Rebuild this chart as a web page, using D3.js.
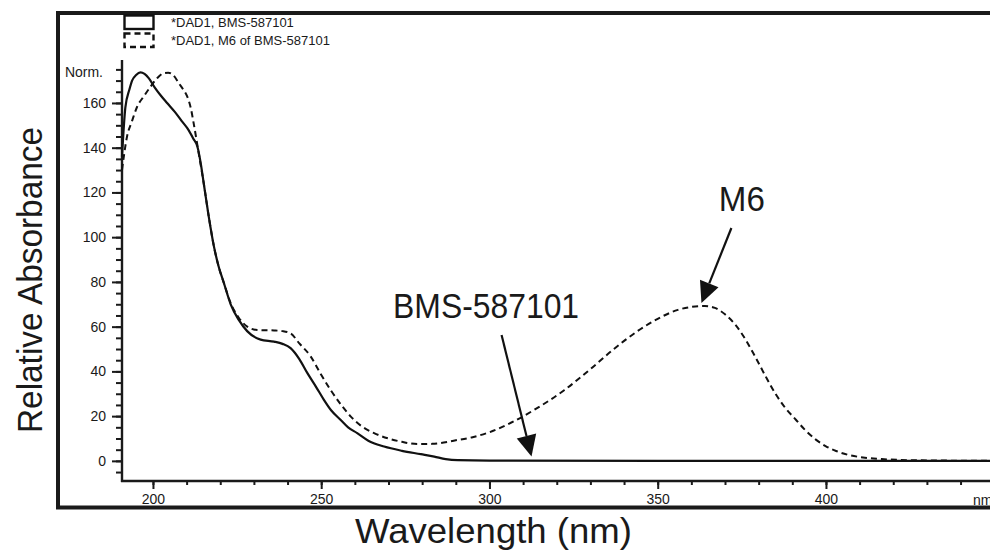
<!DOCTYPE html>
<html>
<head>
<meta charset="utf-8">
<script src="https://cdn.jsdelivr.net/npm/d3@7"></script>
<style>
  body { margin: 0; background: #fff; }
  svg { display: block; }
  text { font-family: "Liberation Sans", Arial, sans-serif; fill: #1a1a1a; }
</style>
</head>
<body>
<div id="chart"></div>
<script>
// BMS-587101 (solid trace)
var bmsWavelength = [190.8, 191.8, 193.0, 193.8, 195.0, 196.3, 197.5, 198.8, 200.5, 202.5, 204.2, 206.5, 208.5, 210.2, 212.0, 213.2, 214.2, 215.1, 216.5, 218.1, 219.5, 221.1, 223.1, 225.5, 228.0, 232.0, 236.0, 238.5, 240.9, 243.5, 245.9, 248.5, 250.8, 253.0, 255.8, 258.0, 260.7, 264.0, 268.7, 274.0, 279.6, 283.6, 287.0, 290.5, 300, 350, 400, 450];
var bmsAbsorbance = [136, 158, 166, 170, 172.5, 173.7, 173, 171, 167, 163, 160, 156, 152, 148.7, 144, 140.5, 133, 124, 110, 96, 87, 79.4, 70, 63, 58, 54.2, 53.3, 52.3, 50.4, 45.5, 39.2, 33, 27.3, 22.5, 18.3, 15, 12.4, 9, 6.4, 4.5, 3, 1.9, 0.8, 0.3, 0.1, 0, 0, 0];

// M6 of BMS-587101 (dashed trace)
var m6Wavelength = [190.8, 192.3, 193.8, 195.3, 197.3, 199.3, 201.2, 203.2, 204.5, 206.0, 207.7, 209.0, 210.2, 211.2, 212.1, 213.6, 215.1, 216.5, 218.1, 219.5, 221.1, 223.1, 225.5, 228.0, 231.0, 236.0, 238.5, 240.9, 243.5, 246.9, 249.8, 252.8, 255.8, 258.8, 262.0, 265.7, 270.0, 274.0, 278.6, 283.0, 290.0, 295.0, 300.0, 307.4, 313.3, 322.3, 330, 337, 344, 350, 356, 360, 364, 367, 370, 373, 376, 379, 382, 385, 388, 391, 394, 397, 400, 403, 406.6, 411, 416.5, 425, 450];
var m6Absorbance = [130, 145, 152, 158.3, 163, 167.3, 171, 173.3, 173.5, 172.5, 168.8, 166, 162.8, 158, 150.9, 137.5, 124, 110, 96, 87, 79.4, 70.5, 64, 60, 58.5, 58.3, 58, 57, 52.5, 46.6, 39, 31.7, 25.3, 19.8, 15.5, 12.4, 10, 8.5, 7.5, 7.6, 9.2, 10.6, 12.8, 17.8, 22.8, 31.7, 41, 50, 58, 63.5, 67.5, 68.8, 69.2, 68.4, 65.5, 61, 54.5, 46.5, 38, 30, 23.5, 18.5, 13.5, 9.5, 6.5, 4.4, 2.7, 1.5, 0.8, 0.3, 0];

var yTickValues = [0, 20, 40, 60, 80, 100, 120, 140, 160];
var yMinorTicks = d3.range(-5, 180, 5);
var xTickValues = [200, 250, 300, 350, 400];
var xMinorTicks = d3.range(200, 460, 10);
var legendLabels = ["*DAD1, BMS-587101", "*DAD1, M6 of BMS-587101"];

var width = 990, height = 554;

var svg = d3.select("#chart").append("svg")
  .attr("width", width)
  .attr("height", height);

svg.append("rect").attr("width", width).attr("height", height).attr("fill", "#fff");

// scales
var x = d3.scaleLinear().domain([190.8, 450]).range([122, 994.2]);
var y = d3.scaleLinear().domain([-9, 179.2]).range([481, 60]);

// outer frame (open on the right, cut by the picture edge)
svg.append("path")
  .attr("d", "M1000,13 H58 V507.5 H1000")
  .attr("fill", "none")
  .attr("stroke", "#1a1a1a")
  .attr("stroke-width", 4);

// y axis: minor ticks then major ticks with labels
var yMinor = svg.append("g").attr("transform", "translate(122,0)")
  .call(d3.axisLeft(y).tickValues(yMinorTicks).tickSize(6).tickFormat(""));
var yMajor = svg.append("g").attr("transform", "translate(122,0)")
  .call(d3.axisLeft(y).tickValues(yTickValues).tickSize(10).tickPadding(6));
[yMinor, yMajor].forEach(function(g) {
  g.select(".domain").remove();
  g.selectAll("line").attr("stroke", "#1a1a1a").attr("stroke-width", 2);
});
yMajor.selectAll("text").attr("font-size", 14).attr("font-family", null).style("fill", "#1a1a1a");
svg.append("line")
  .attr("x1", 122).attr("x2", 122)
  .attr("y1", y.range()[1]).attr("y2", y.range()[0] + 1)
  .attr("stroke", "#1a1a1a").attr("stroke-width", 2.4);

svg.append("text")
  .attr("x", 103).attr("y", 77)
  .attr("text-anchor", "end")
  .attr("font-size", 14)
  .text("Norm.");

// x axis
var xMinor = svg.append("g").attr("transform", "translate(0,481)")
  .call(d3.axisBottom(x).tickValues(xMinorTicks).tickSize(4).tickFormat(""));
var xMajor = svg.append("g").attr("transform", "translate(0,481)")
  .call(d3.axisBottom(x).tickValues(xTickValues).tickSize(8).tickPadding(5).tickFormat(d3.format("d")));
[xMinor, xMajor].forEach(function(g) {
  g.select(".domain").remove();
  g.selectAll("line").attr("stroke", "#1a1a1a").attr("stroke-width", 2);
});
xMajor.selectAll("text").attr("font-size", 14).attr("font-family", null).style("fill", "#1a1a1a");
svg.append("line")
  .attr("x1", 121).attr("x2", width)
  .attr("y1", 481).attr("y2", 481)
  .attr("stroke", "#1a1a1a").attr("stroke-width", 2.4);

svg.append("text")
  .attr("x", 973).attr("y", 505)
  .attr("font-size", 14)
  .text("nm");

// traces
var line = d3.line()
  .x(function(d) { return x(d[0]); })
  .y(function(d) { return y(d[1]); })
  .curve(d3.curveMonotoneX);

svg.append("path")
  .datum(d3.zip(m6Wavelength, m6Absorbance))
  .attr("d", line)
  .attr("fill", "none")
  .attr("stroke", "#111")
  .attr("stroke-width", 2)
  .attr("stroke-dasharray", "6,4");

svg.append("path")
  .datum(d3.zip(bmsWavelength, bmsAbsorbance))
  .attr("d", line)
  .attr("fill", "none")
  .attr("stroke", "#111")
  .attr("stroke-width", 2.2);

// legend
var legend = svg.append("g");
legendLabels.forEach(function(label, i) {
  legend.append("rect")
    .attr("x", 124.5).attr("y", 15.5 + i * 18)
    .attr("width", 29).attr("height", 13.5)
    .attr("fill", "none")
    .attr("stroke", "#111")
    .attr("stroke-width", 2.4)
    .attr("stroke-dasharray", i == 1 ? "6,4" : null);
  legend.append("text")
    .attr("x", 171).attr("y", 27 + i * 18)
    .attr("font-size", 13)
    .text(label);
});

// axis titles
svg.append("text")
  .attr("transform", "translate(42,280) rotate(-90)")
  .attr("text-anchor", "middle")
  .attr("font-size", 35)
  .attr("textLength", 306)
  .attr("lengthAdjust", "spacingAndGlyphs")
  .text("Relative Absorbance");

svg.append("text")
  .attr("x", 493.5).attr("y", 543)
  .attr("text-anchor", "middle")
  .attr("font-size", 35)
  .attr("textLength", 277)
  .attr("lengthAdjust", "spacingAndGlyphs")
  .text("Wavelength (nm)");

// annotations with arrows (anchored in data units)
var notes = [
  { text: "M6", tx: 375.0, ty: 111.7, len: 46, from: [371.9, 104.1], to: [363.0, 70.6] },
  { text: "BMS-587101", tx: 299.0, ty: 64.0, len: 186, from: [303.6, 56.3], to: [312.5, 2.0] }
];
notes.forEach(function(n) {
  svg.append("text")
    .attr("x", x(n.tx)).attr("y", y(n.ty))
    .attr("text-anchor", "middle")
    .attr("font-size", 35)
    .attr("textLength", n.len)
    .attr("lengthAdjust", "spacingAndGlyphs")
    .text(n.text);

  var x1 = x(n.from[0]), y1 = y(n.from[1]), x2 = x(n.to[0]), y2 = y(n.to[1]);
  var ang = Math.atan2(y2 - y1, x2 - x1);
  var headLen = 21, headHalf = 10;
  var bx = x2 - headLen * Math.cos(ang), by = y2 - headLen * Math.sin(ang);
  svg.append("line")
    .attr("x1", x1).attr("y1", y1).attr("x2", bx).attr("y2", by)
    .attr("stroke", "#111").attr("stroke-width", 2.2);
  svg.append("path")
    .attr("d", "M" + x2 + "," + y2 +
      "L" + (bx + headHalf * Math.sin(ang)) + "," + (by - headHalf * Math.cos(ang)) +
      "L" + (bx - headHalf * Math.sin(ang)) + "," + (by + headHalf * Math.cos(ang)) + "Z")
    .attr("fill", "#111");
});
</script>
</body>
</html>
